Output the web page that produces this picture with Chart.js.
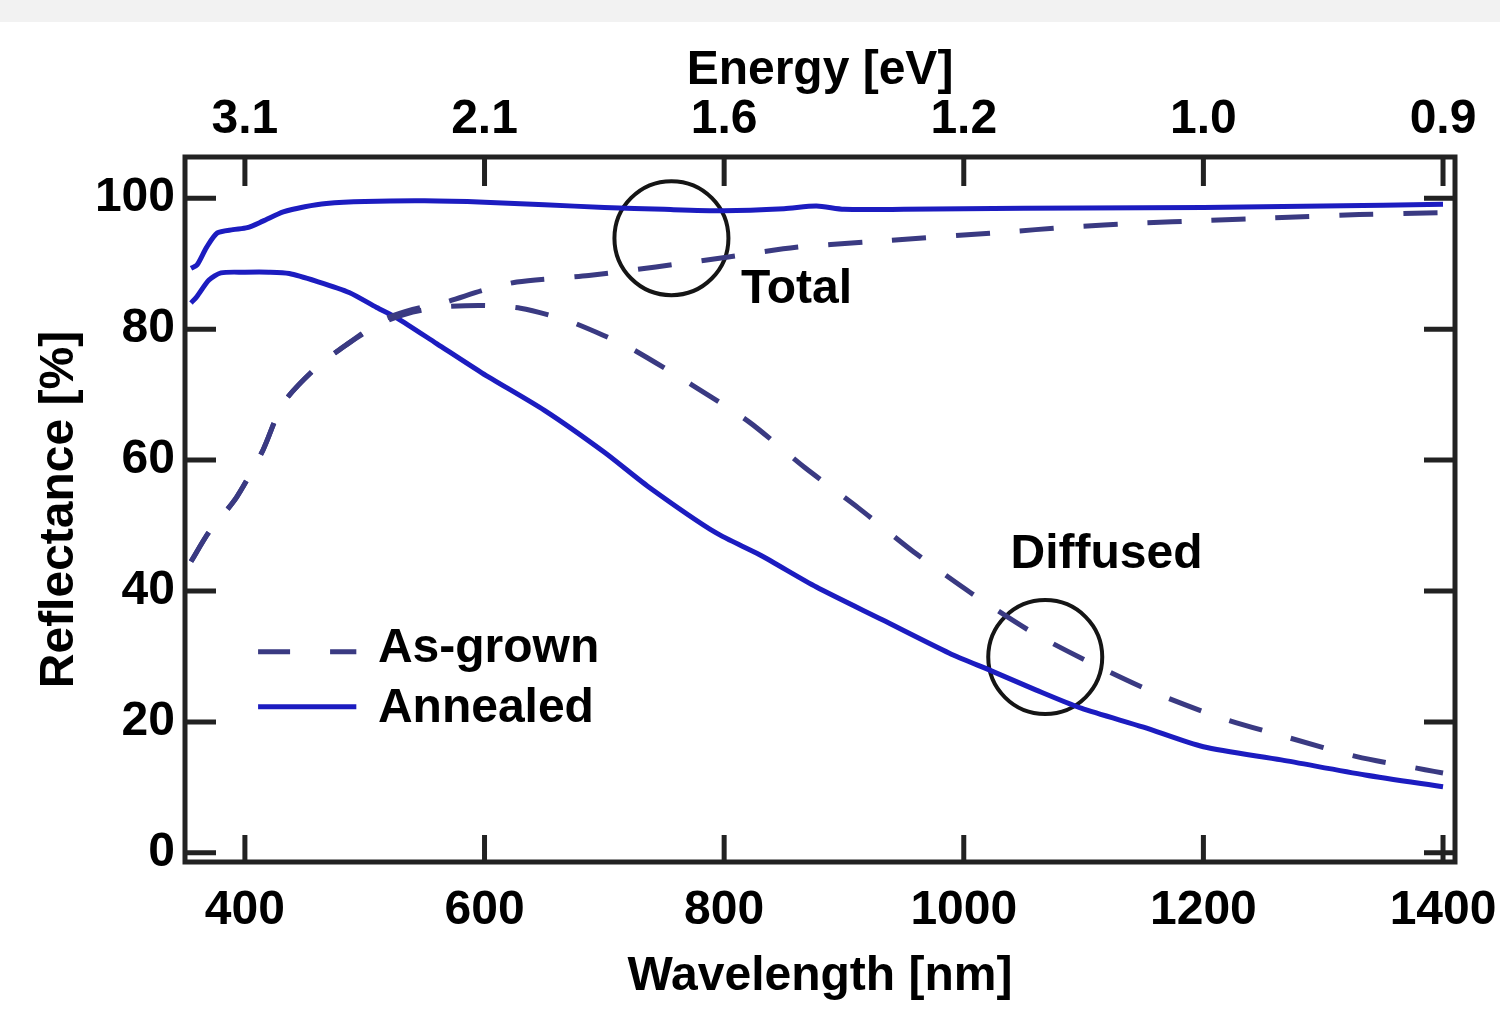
<!DOCTYPE html>
<html>
<head>
<meta charset="utf-8">
<title>Reflectance spectra</title>
<script src="https://cdn.jsdelivr.net/npm/chart.js@4.4.1/dist/chart.umd.min.js"></script>
<style>
  html, body { margin: 0; padding: 0; background: #fff; }
  #wrap { width: 1500px; height: 1009px; }
</style>
</head>
<body>
<div id="wrap"><canvas id="reflChart" width="1500" height="1009"></canvas></div>
<script>
// values: wavelength in nm, reflectance in %
var annealedTotalNm = [355, 360, 368, 377, 390, 402, 415, 432, 450, 468, 500, 550, 600, 650, 700, 750, 800, 850, 877, 900, 950, 1000, 1100, 1200, 1300, 1400];
var annealedTotal = [89.3, 89.8, 92.5, 94.7, 95.2, 95.5, 96.5, 97.9, 98.7, 99.2, 99.5, 99.6, 99.4, 99.0, 98.6, 98.3, 98.1, 98.4, 98.8, 98.3, 98.3, 98.4, 98.5, 98.6, 98.8, 99.1];

var annealedDiffNm = [355, 360, 370, 380, 400, 420, 437, 460, 487, 510, 527, 560, 598, 650, 700, 737, 793, 830, 877, 932, 988, 1023, 1060, 1098, 1150, 1200, 1265, 1335, 1400];
var annealedDiff = [84.0, 85.0, 87.5, 88.6, 88.7, 88.7, 88.5, 87.3, 85.6, 83.3, 81.7, 77.8, 73.3, 67.6, 61.2, 55.9, 48.9, 45.5, 40.6, 35.6, 30.5, 27.8, 24.9, 22.1, 19.2, 16.2, 14.2, 11.9, 10.1];

var asGrownTotalNm = [355, 370, 393, 415, 432, 460, 487, 515, 540, 565, 600, 627, 687, 743, 802, 860, 918, 1032, 1088, 1146, 1202, 1258, 1330, 1400];
var asGrownTotal = [44.5, 49.0, 54.3, 61.5, 68.7, 74.2, 77.9, 81.4, 83.0, 84.0, 86.0, 87.2, 88.2, 89.5, 91.0, 92.5, 93.3, 94.8, 95.6, 96.2, 96.6, 97.0, 97.5, 97.8];

var asGrownDiffNm = [355, 370, 393, 415, 432, 460, 487, 515, 540, 565, 600, 630, 668, 700, 723, 773, 821, 867, 912, 958, 1006, 1057, 1104, 1160, 1215, 1271, 1328, 1385, 1400];
var asGrownDiff = [44.5, 49.0, 54.3, 61.5, 68.7, 74.2, 77.9, 81.0, 82.6, 83.4, 83.6, 83.2, 81.4, 79.0, 77.0, 71.5, 65.8, 58.9, 52.7, 46.0, 39.7, 33.7, 29.2, 24.4, 20.6, 17.6, 14.7, 12.7, 12.2];

// circled regions (nm, %)
var circleNm = [756, 1068];
var circleVal = [93.9, 29.9];

var wavelengthTicks = [400, 600, 800, 1000, 1200, 1400];
var energyLabels = ["3.1", "2.1", "1.6", "1.2", "1.0", "0.9"];
var reflTicks = [0, 20, 40, 60, 80, 100];

var solidBlue = "#1c1cc0";
var dashNavy = "#3a3a82";
var boldFont = { family: "'Liberation Sans', Arial, sans-serif", size: 48, weight: "bold" };
var fontCss = "bold 48px 'Liberation Sans', Arial, sans-serif";

function toPoints(xs, ys) {
    var pts = [];
    for (var i = 0; i < xs.length; i++) {
        pts.push({ x: xs[i], y: ys[i] });
    }
    return pts;
}

function curve(label, xs, ys, color, dashed) {
    return {
        label: label,
        data: toPoints(xs, ys),
        showLine: true,
        borderColor: color,
        backgroundColor: color,
        borderWidth: 5,
        borderDash: dashed ? [34, 30] : [],
        pointRadius: 0,
        tension: 0.25,
        fill: false
    };
}

function setTicks(values) {
    return function (scale) {
        scale.ticks = values.map(function (v) { return { value: v }; });
    };
}

// frame, inside tick marks, notes and the in-plot legend
var decorPlugin = {
    id: "decor",
    beforeDraw: function (chart) {
        var ctx = chart.ctx;
        ctx.save();
        ctx.fillStyle = "#f2f2f2";
        ctx.fillRect(0, 0, chart.width, 22);
        ctx.restore();
    },
    afterDatasetsDraw: function (chart) {
        var ctx = chart.ctx;
        var a = chart.chartArea;
        var xs = chart.scales.x;
        var ys = chart.scales.y;
        ctx.save();

        ctx.strokeStyle = "#222";
        ctx.lineWidth = 5;
        ctx.setLineDash([]);
        ctx.strokeRect(a.left, a.top, a.right - a.left, a.bottom - a.top);
        ctx.beginPath();
        wavelengthTicks.forEach(function (v) {
            var px = xs.getPixelForValue(v);
            ctx.moveTo(px, a.bottom);
            ctx.lineTo(px, a.bottom - 27);
            ctx.moveTo(px, a.top);
            ctx.lineTo(px, a.top + 29);
        });
        reflTicks.forEach(function (v) {
            var py = ys.getPixelForValue(v);
            ctx.moveTo(a.left, py);
            ctx.lineTo(a.left + 31, py);
            ctx.moveTo(a.right, py);
            ctx.lineTo(a.right - 31, py);
        });
        ctx.stroke();

        ctx.fillStyle = "#000";
        ctx.font = fontCss;
        ctx.textAlign = "left";
        ctx.textBaseline = "alphabetic";
        ctx.fillText("Total", xs.getPixelForValue(814), ys.getPixelForValue(84.0));
        ctx.fillText("Diffused", xs.getPixelForValue(1039), ys.getPixelForValue(43.5));

        // legend
        var lx0 = xs.getPixelForValue(411), lx1 = xs.getPixelForValue(493);
        var ly0 = ys.getPixelForValue(30.7), ly1 = ys.getPixelForValue(22.3);
        ctx.lineWidth = 5;
        ctx.strokeStyle = dashNavy;
        ctx.setLineDash([32, 40]);
        ctx.beginPath();
        ctx.moveTo(lx0, ly0);
        ctx.lineTo(lx1, ly0);
        ctx.stroke();
        ctx.strokeStyle = solidBlue;
        ctx.setLineDash([]);
        ctx.beginPath();
        ctx.moveTo(lx0, ly1);
        ctx.lineTo(lx1, ly1);
        ctx.stroke();
        var tx = xs.getPixelForValue(511);
        ctx.fillText("As-grown", tx, ys.getPixelForValue(29.2));
        ctx.fillText("Annealed", tx, ys.getPixelForValue(20.0));

        ctx.restore();
    }
};

var ctx = document.getElementById("reflChart");

var reflChart = new Chart(ctx, {
    type: "scatter",
    data: {
        datasets: [
            curve("As-grown total", asGrownTotalNm, asGrownTotal, dashNavy, true),
            curve("As-grown diffused", asGrownDiffNm, asGrownDiff, dashNavy, true),
            curve("Annealed total", annealedTotalNm, annealedTotal, solidBlue, false),
            curve("Annealed diffused", annealedDiffNm, annealedDiff, solidBlue, false),
            {
                label: "circles",
                data: toPoints(circleNm, circleVal),
                showLine: false,
                pointStyle: "circle",
                pointRadius: 57,
                pointBorderWidth: 4,
                borderColor: "#151515",
                backgroundColor: "rgba(0,0,0,0)"
            }
        ]
    },
    options: {
        responsive: false,
        animation: false,
        events: [],
        devicePixelRatio: 1,
        layout: { autoPadding: false, padding: { left: 0, right: 45, top: 0, bottom: 0 } },
        plugins: {
            legend: { display: false },
            tooltip: { enabled: false }
        },
        scales: {
            x: {
                type: "linear",
                position: "bottom",
                min: 350,
                max: 1410,
                afterBuildTicks: setTicks(wavelengthTicks),
                grid: { display: false, drawTicks: false },
                border: { display: false },
                ticks: {
                    font: boldFont, color: "#000", padding: 20, maxRotation: 0, autoSkip: false,
                    callback: function (value) { return String(value); }
                },
                title: { display: true, text: "Wavelength [nm]", font: boldFont, color: "#000", padding: { top: 0, bottom: 3 } },
                afterFit: function (s) { s.height = 147; s.paddingLeft = 0; s.paddingRight = 0; }
            },
            x2: {
                type: "linear",
                position: "top",
                min: 350,
                max: 1410,
                afterBuildTicks: setTicks(wavelengthTicks),
                grid: { display: false, drawTicks: false },
                border: { display: false },
                ticks: {
                    font: boldFont, color: "#000", padding: 8, maxRotation: 0, autoSkip: false,
                    callback: function (value, index) { return energyLabels[index]; }
                },
                title: { display: true, text: "Energy [eV]", font: boldFont, color: "#000", padding: { top: 42, bottom: 0 } },
                afterFit: function (s) { s.height = 157; s.paddingLeft = 0; s.paddingRight = 0; }
            },
            y: {
                type: "linear",
                position: "left",
                min: -1.4,
                max: 106.3,
                afterBuildTicks: setTicks(reflTicks),
                grid: { display: false, drawTicks: false },
                border: { display: false },
                ticks: { font: boldFont, color: "#000", padding: 10 },
                title: { display: true, text: "Reflectance [%]", font: boldFont, color: "#000", padding: { top: 31, bottom: 0 } },
                afterFit: function (s) { s.width = 185; s.paddingTop = 0; s.paddingBottom = 0; }
            }
        }
    },
    plugins: [decorPlugin]
});
</script>
</body>
</html>
